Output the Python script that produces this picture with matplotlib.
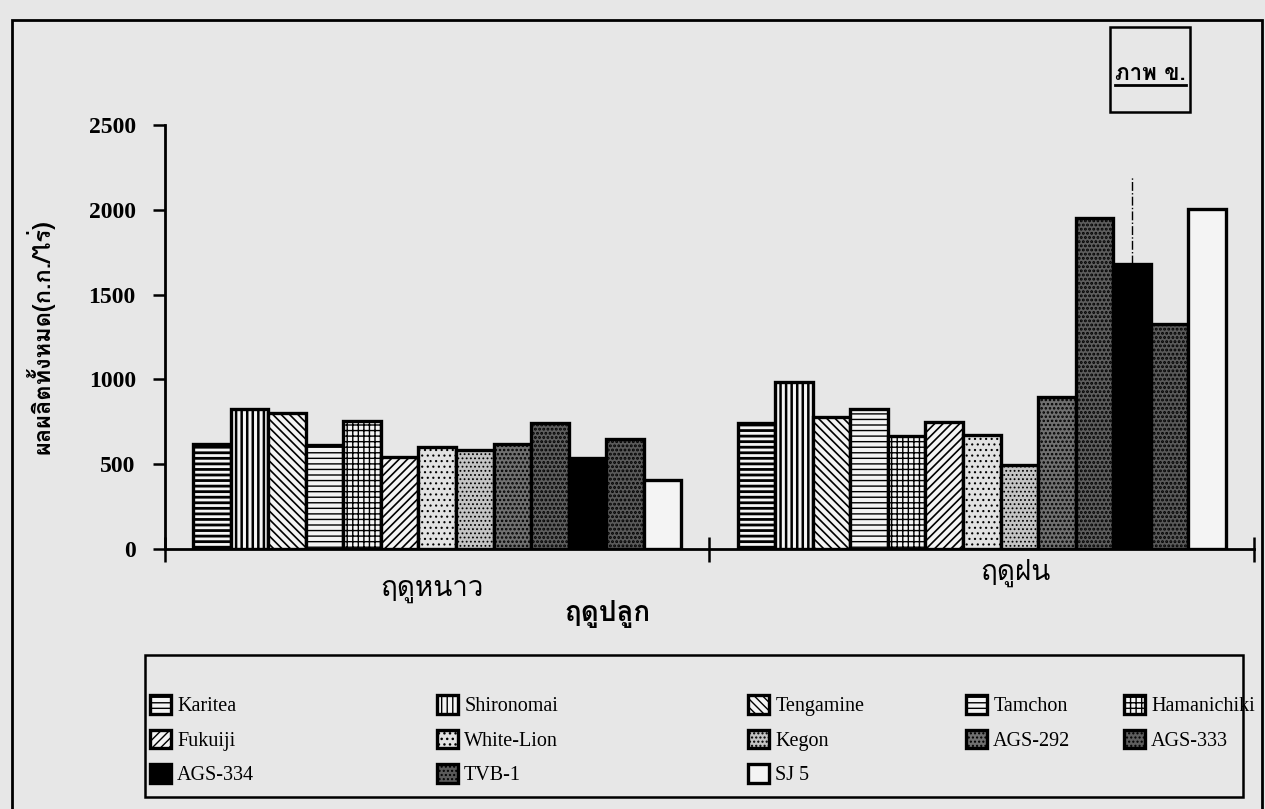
import numpy as np
import matplotlib
matplotlib.use("Agg")
import matplotlib.pyplot as plt
from matplotlib import font_manager
from matplotlib.ft2font import FT2Font
from matplotlib.patches import Rectangle
from matplotlib.lines import Line2D

# data (kg/rai)
seasons = ["ฤดูหนาว", "ฤดูฝน"]
varieties = ["Karitea", "Shironomai", "Tengamine", "Tamchon", "Hamanichiki",
             "Fukuiji", "White-Lion", "Kegon", "AGS-292", "AGS-333",
             "AGS-334", "TVB-1", "SJ 5"]
winter_yield = [621, 823, 802, 616, 754, 544, 599, 584, 621, 742, 537, 646, 406]
rainy_yield = [745, 983, 779, 823, 666, 751, 671, 496, 894, 1952, 1683, 1326, 2005]
# dash-dot mark drawn above the rainy-season AGS-334 bar
mark_variety = "AGS-334"
mark_top = 2200
yticks = [0, 500, 1000, 1500, 2000, 2500]

# fill / hatch for each variety
faces = ["#f4f4f4", "#f4f4f4", "#f4f4f4", "#f4f4f4", "#f4f4f4",
         "#f4f4f4", "#e2e2e2", "#c4c4c4", "#707070", "#5e5e5e",
         "#000000", "#5a5a5a", "#f4f4f4"]
hatches = ["---", "|||", "\\\\\\\\", "---", "+++",
           "////", "...", "....", "....", "....",
           "", "....", ""]
hatch_lw = [2.0, 1.8, 1.2, 1.0, 1.0, 1.2, 0.8, 0.8, 1.2, 1.4, 1.0, 1.4, 1.0]


def find_thai_font():
    found = {}
    for f in font_manager.fontManager.ttflist:
        try:
            cmap = FT2Font(f.fname).get_charmap()
        except Exception:
            continue
        if 0x0E24 in cmap and 0x0E1C in cmap:
            found.setdefault(f.name, []).append(f.weight)
    if not found:
        return "DejaVu Sans"
    # prefer a family that has a bold face
    for name, weights in found.items():
        if any(w in ("bold", 700) or (isinstance(w, int) and w >= 600) for w in weights):
            return name
    return list(found)[0]


thai = [find_thai_font(), "DejaVu Sans"]
serif = ["Liberation Serif", "DejaVu Serif"]
bg = "#e7e7e7"

fig = plt.figure(figsize=(12.65, 8.09), dpi=100, facecolor=bg)
ax = fig.add_axes([0.1304, 0.3214, 0.8609, 0.5241])
ax.set_facecolor("none")

n = len(varieties)
width = 0.069
x = np.arange(len(seasons))
offsets = (np.arange(n) - (n - 1) / 2) * width

for i in range(n):
    with plt.rc_context({"hatch.linewidth": hatch_lw[i]}):
        ax.bar(x + offsets[i], [winter_yield[i], rainy_yield[i]], width,
               facecolor=faces[i], edgecolor="black", hatch=hatches[i],
               linewidth=2.4, label=varieties[i], zorder=3)

k = varieties.index(mark_variety)
ax.vlines(x[1] + offsets[k], rainy_yield[k], mark_top, colors="black",
          linestyles="dashdot", linewidth=1.0, zorder=2)

ax.set_xlim(-0.5, 1.5)
ax.set_ylim(0, 2500)
ax.set_yticks(yticks)
ax.set_yticklabels([str(v) for v in yticks], fontfamily=serif,
                   fontweight="bold", fontsize=17)
ax.set_xticks([-0.5, 0.5, 1.5])
ax.set_xticklabels([])
ax.tick_params(axis="y", direction="out", length=9, width=1.8, pad=12)
ax.tick_params(axis="x", direction="inout", length=18, width=1.8)
for s in ("top", "right"):
    ax.spines[s].set_visible(False)
for s in ("left", "bottom"):
    ax.spines[s].set_linewidth(2.0)
ax.spines["left"].set_zorder(4)

ax.set_ylabel("ผลผลิตทั้งหมด(ก.ก./ไร่)", fontfamily=thai, fontweight="bold",
              fontsize=17)
ax.yaxis.set_label_coords(-0.101, 0.5)

# season names and axis title
fig.text(0.3415, 0.2707, seasons[0], fontfamily=thai, fontsize=20,
         ha="center", va="center")
fig.text(0.803, 0.2917, seasons[1], fontfamily=thai, fontsize=20,
         ha="center", va="center")
fig.text(0.480, 0.241, "ฤดูปลูก", fontfamily=thai, fontweight="bold",
         fontsize=20, ha="center", va="center")

# figure label box
fig.add_artist(Rectangle((0.8775, 0.8616), 0.0632, 0.105, transform=fig.transFigure,
                         fill=False, edgecolor="black", linewidth=1.8))
title = fig.text(0.9095, 0.9085, "ภาพ ข.", fontfamily=thai, fontweight="bold",
                 fontsize=16, ha="center", va="center")

# outer frame
fig.add_artist(Rectangle((0.0095, -0.1), 0.988, 1.075, transform=fig.transFigure,
                         fill=False, edgecolor="black", linewidth=2.0))

# legend box with five irregular columns
fig.add_artist(Rectangle((0.1146, 0.0148), 0.868, 0.1756, transform=fig.transFigure,
                         fill=False, edgecolor="black", linewidth=1.8))
handles, labels = ax.get_legend_handles_labels()
columns = [[0, 5, 10], [1, 6, 11], [2, 7, 12], [3, 8], [4, 9]]
col_x = [150, 437, 748, 966, 1124]
for cx, idx in zip(col_x, columns):
    leg = fig.legend([handles[j] for j in idx], [labels[j] for j in idx],
                     loc="upper left", bbox_to_anchor=(cx / 1265, 1 - 695 / 809),
                     frameon=False, borderpad=0, borderaxespad=0,
                     handlelength=1.05, handleheight=1.05, handletextpad=0.3,
                     labelspacing=0.66, prop={"family": serif, "size": 14.5})

fig.canvas.draw()
bb = title.get_window_extent(fig.canvas.get_renderer())
W, H = fig.bbox.width, fig.bbox.height
fig.add_artist(Line2D([bb.x0 / W, bb.x1 / W], [(bb.y0 - 1) / H, (bb.y0 - 1) / H],
                      transform=fig.transFigure, color="black", linewidth=2.0))

fig.savefig("out.png", dpi=100, facecolor=fig.get_facecolor())
